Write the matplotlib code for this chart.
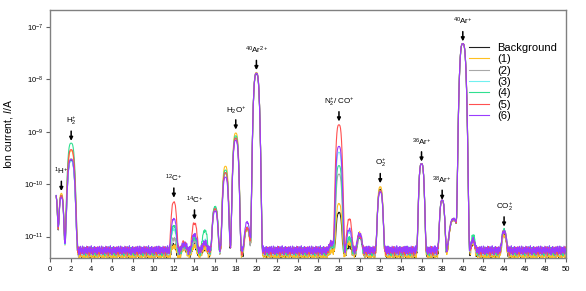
import numpy as np
import matplotlib
matplotlib.use('Agg')
from matplotlib import pyplot as plt

plt.rcParams['font.family'] = ['Liberation Sans', 'DejaVu Sans']
plt.rcParams['mathtext.fontset'] = 'custom'
plt.rcParams['mathtext.rm'] = 'Liberation Sans'
plt.rcParams['mathtext.it'] = 'Liberation Sans:italic'
plt.rcParams['mathtext.bf'] = 'Liberation Sans:bold'

# * Peaks (m/z, half width of the peak)
peak_mz = [0.5, 1.1, 2.05, 12, 13, 14, 15, 16, 17, 18, 19.1, 20, 27.3, 28, 29, 30, 32, 36, 38, 39.1, 40, 41, 44]
peak_width = [0.22, 0.22, 0.34, 0.27, 0.27, 0.27, 0.27, 0.27, 0.27, 0.27, 0.27, 0.27, 0.27, 0.28, 0.26, 0.26, 0.26, 0.25, 0.25, 0.42, 0.29, 0.22, 0.25]

# * Peak heights above baseline (A), one list per sample
background = [6e-11, 5.5e-11, 2.8e-10, 2e-12, 1.5e-12, 2e-12, 1.5e-12, 3.0e-11, 1.6e-10, 7.5e-10, 9e-12, 1.25e-8,
              1e-12, 2.4e-11, 2e-12, 5e-12, 7.5e-11, 2.4e-10, 4.4e-11, 1.6e-11, 4.8e-8, 3e-12, 6e-12]
sample1 = [6e-11, 6.2e-11, 4.3e-10, 2e-12, 1.5e-12, 2e-12, 1.5e-12, 3.0e-11, 2.15e-10, 9.4e-10, 9e-12, 1.35e-8,
           1e-12, 3.8e-11, 3e-12, 7e-12, 8.5e-11, 2.4e-10, 4.4e-11, 1.6e-11, 4.8e-8, 3e-12, 6e-12]
sample2 = [6e-11, 5.5e-11, 3.0e-10, 4e-12, 1.5e-12, 3e-12, 2e-12, 3.0e-11, 1.6e-10, 7.5e-10, 9e-12, 1.3e-8,
           1.5e-12, 1.5e-10, 4e-12, 5.5e-12, 7e-11, 2.4e-10, 4.4e-11, 1.6e-11, 4.8e-8, 3e-12, 7e-12]
sample3 = [6e-11, 5.3e-11, 2.7e-10, 8e-12, 1.5e-12, 5e-12, 2.5e-12, 2.6e-11, 1.5e-10, 7.5e-10, 9e-12, 1.3e-8,
           1.5e-12, 4.0e-10, 7e-12, 5e-12, 7e-11, 2.4e-10, 4.4e-11, 1.6e-11, 4.8e-8, 4e-12, 7e-12]
sample4 = [6e-11, 5.5e-11, 6.0e-10, 1.05e-11, 1.5e-12, 4e-12, 7.5e-12, 3.2e-11, 1.8e-10, 8.3e-10, 9e-12, 1.3e-8,
           1.5e-12, 2.2e-10, 4e-12, 4.5e-12, 7e-11, 2.4e-10, 4.4e-11, 1.6e-11, 4.8e-8, 5e-12, 8e-12]
sample5 = [6e-11, 5.5e-11, 4.5e-10, 4.0e-11, 2e-12, 1.25e-11, 2e-12, 2.8e-11, 1.6e-10, 7.5e-10, 9e-12, 1.3e-8,
           2e-12, 1.35e-9, 1.6e-11, 5e-12, 7e-11, 2.4e-10, 4.4e-11, 1.6e-11, 4.8e-8, 3e-12, 7e-12]
sample6 = [6e-11, 5.0e-11, 2.9e-10, 1.6e-11, 1.5e-12, 5e-12, 2e-12, 2.5e-11, 1.3e-10, 6.8e-10, 1.3e-11, 1.3e-8,
           2e-12, 5.2e-10, 8e-12, 5.5e-12, 6.5e-11, 2.4e-10, 4.4e-11, 1.6e-11, 4.8e-8, 3e-12, 7e-12]

baselines = [4.7e-12, 4.5e-12, 5.1e-12, 5.5e-12, 5.3e-12, 5.4e-12, 5.6e-12]
noise_pattern = [1.10, 0.91, 1.16, 0.96, 0.84, 1.06, 1.18, 0.89, 1.02, 0.82, 1.12, 0.94, 1.08, 0.87, 1.17,
                 0.99, 0.85, 1.07, 0.93, 1.14, 0.90, 1.03, 0.86, 1.19, 0.95, 1.01, 0.81, 1.11, 0.98, 1.15,
                 0.88, 1.05, 0.92, 1.09, 0.84, 1.13, 0.94]

labels = ['Background', '(1)', '(2)', '(3)', '(4)', '(5)', '(6)']
colors = ['#202020', '#FFC020', '#A8A8A8', '#70F0F0', '#30E090', '#FF5050', '#9A3CFF']
all_heights = [background, sample1, sample2, sample3, sample4, sample5, sample6]

# * Peak labels: (m/z, arrow tip, text)
annotations = [
    (1.1, 7.4e-11, r'$^{1}$H$^{+}$'),
    (2.05, 6.7e-10, r'H$_2^{+}$'),
    (12, 5.5e-11, r'$^{12}$C$^{+}$'),
    (14, 2.1e-11, r'$^{14}$C$^{+}$'),
    (18, 1.1e-9, r'H$_2$O$^{+}$'),
    (20, 1.5e-8, r'$^{40}$Ar$^{2+}$'),
    (28, 1.57e-9, r'N$_2^{+}$/ CO$^{+}$'),
    (32, 1.04e-10, r'O$_2^{+}$'),
    (36, 2.7e-10, r'$^{36}$Ar$^{+}$'),
    (38, 5.0e-11, r'$^{38}$Ar$^{+}$'),
    (40, 5.3e-8, r'$^{40}$Ar$^{+}$'),
    (44, 1.55e-11, r'CO$_2^{+}$'),
]

mz = np.arange(0.6, 50.0001, 0.05)
noise = np.resize(noise_pattern, mz.size)

fig = plt.figure(figsize=(5.86, 2.91), dpi=100)
ax = fig.add_axes([50 / 586, 1 - 258 / 291, 516 / 586, 248 / 291])

for i, (heights, base) in enumerate(zip(all_heights, baselines)):
    signal = base * np.roll(noise, 7 * i + 3)
    for c, w, h in zip(peak_mz, peak_width, heights):
        signal = signal + h * np.exp(-(np.abs(mz - c) / w) ** 3)
    ax.plot(mz, signal, color=colors[i], lw=0.8, label=labels[i])

for x, tip, text in annotations:
    ax.annotate(text, xy=(x, tip), xytext=(0, 10), textcoords='offset points',
                ha='center', va='bottom', fontsize=5.8,
                arrowprops=dict(arrowstyle='-|>', color='k', lw=1.1,
                                mutation_scale=5, shrinkA=1, shrinkB=0))

ax.set_yscale('log')
ax.set_xlim(0, 50)
ax.set_ylim(3.9e-12, 2.1e-7)
ax.set_xticks(np.arange(0, 51, 2))
ax.yaxis.set_minor_locator(matplotlib.ticker.NullLocator())
ax.tick_params(labelsize=5.5, length=3, width=0.8, color='#606060', pad=2)
ax.tick_params(axis='x', pad=3)
for sp in ax.spines.values():
    sp.set_color('#808080')
    sp.set_linewidth(1)
ax.set_ylabel(r'Ion current, $I$/A', fontsize=7.5, labelpad=6)

ax.legend(loc='upper right', bbox_to_anchor=(0.994, 0.89), frameon=False, fontsize=8,
          borderpad=0, labelspacing=0.12, handlelength=1.8, handletextpad=0.8)

fig.savefig('out.png', dpi=100)
